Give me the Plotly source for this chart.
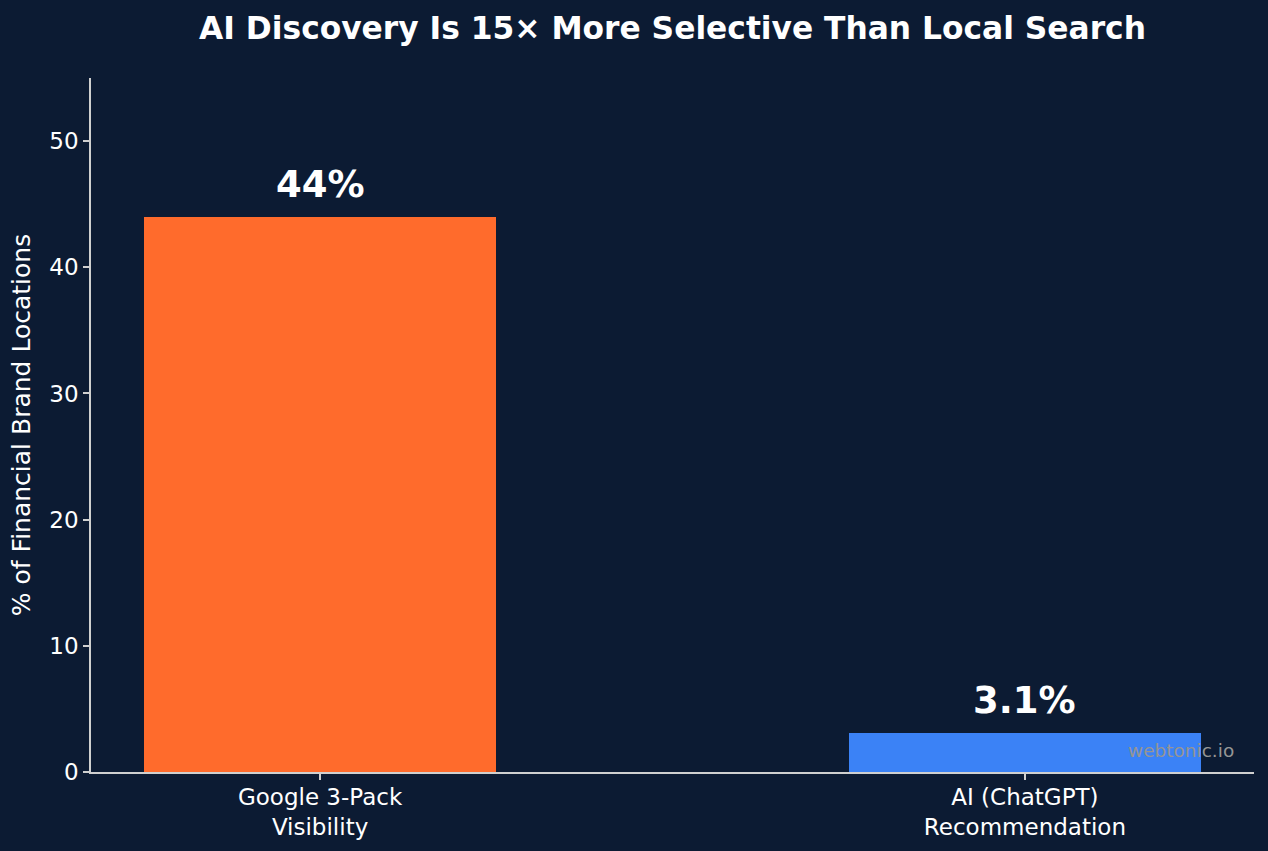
import plotly.graph_objects as go

categories = ["Google 3-Pack<br>Visibility", "AI (ChatGPT)<br>Recommendation"]
values = [44, 3.1]
value_labels = ["44%", "3.1%"]
colors = ["#FF6B2C", "#3B82F6"]
y_ticks = [0, 10, 20, 30, 40, 50]

BG = "#0c1b33"
AX = "#d0d0d0"
FONT = "DejaVu Sans"

x_pos = list(range(len(categories)))

fig = go.Figure()
fig.add_trace(go.Bar(
    x=x_pos, y=values, width=0.5,
    marker=dict(color=colors, line=dict(width=0)),
    hoverinfo="skip",
))

for xp, v, lab in zip(x_pos, values, value_labels):
    fig.add_annotation(
        x=xp, y=v, text=lab, showarrow=False,
        xanchor="center", yanchor="bottom", yshift=9,
        font=dict(family=FONT, size=37, color="white", weight="bold"),
    )

fig.add_annotation(
    xref="paper", yref="paper", x=0.9845, y=0.013,
    text="webtonic.io", showarrow=False, xanchor="right", yanchor="bottom",
    font=dict(family=FONT, size=18.5, color="#959595"),
)

fig.update_layout(
    width=1268, height=851,
    paper_bgcolor=BG, plot_bgcolor=BG,
    margin=dict(l=91, r=14, t=78, b=79, autoexpand=False),
    showlegend=False,
    bargap=0,
    title=dict(
        text="AI Discovery Is 15× More Selective Than Local Search",
        x=0.5, xanchor="center", y=1 - 28 / 851, yanchor="middle",
        xref="paper",
        font=dict(family=FONT, size=31.3, color="white", weight="bold"),
    ),
    font=dict(family=FONT, color="white"),
)

fig.update_xaxes(
    range=[-0.325, 1.325], automargin=False,
    tickmode="array", tickvals=x_pos, ticktext=categories,
    showgrid=False, zeroline=False,
    showline=True, linecolor=AX, linewidth=1.5,
    ticks="outside", ticklen=6, tickwidth=1.5, tickcolor=AX,
    ticklabelstandoff=-2,
    tickfont=dict(family=FONT, size=23, color="white"),
)
fig.update_yaxes(
    range=[0, 55], automargin=False,
    tickmode="array", tickvals=y_ticks,
    showgrid=False, zeroline=False,
    showline=True, linecolor=AX, linewidth=1.5,
    ticks="outside", ticklen=6, tickwidth=1.5, tickcolor=AX,
    tickfont=dict(family=FONT, size=23, color="white"),
    title=dict(text="% of Financial Brand Locations",
               font=dict(family=FONT, size=25, color="white"), standoff=12),
)

fig.write_html("out.html")
